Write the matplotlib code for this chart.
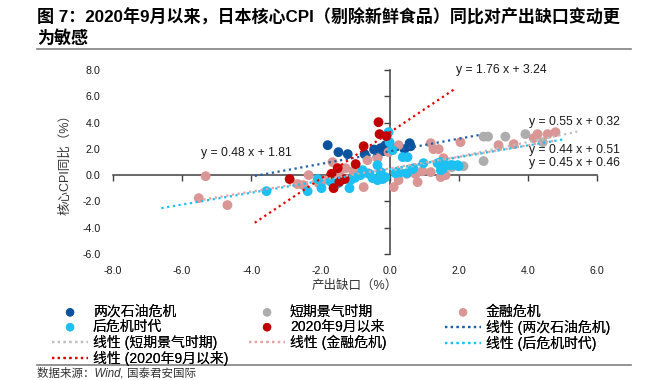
import matplotlib
matplotlib.use("Agg")
import matplotlib.pyplot as plt
from matplotlib.lines import Line2D
import numpy as np

plt.rcParams['font.family'] = ['Liberation Sans', 'Noto Sans CJK SC', 'DejaVu Sans']
plt.rcParams['axes.unicode_minus'] = False

# ---------------- data ----------------
oil_x = [-1.79, -1.48, -1.21, -0.72, -0.35, -0.26, -0.17, -0.06, 0.09, 0.43, 0.58, -0.45, -0.12, 0.61]
oil_y = [2.28, 1.75, 1.60, 1.60, 1.37, 2.05, 1.83, 2.13, 2.05, 1.98, 2.43, 1.95, 2.28, 2.20]

boom_x = [2.14, 2.72, 2.72, 2.85, 3.35, 3.93, 4.43, 1.80]
boom_y = [0.68, 1.07, 2.93, 2.93, 2.93, 3.12, 2.51, 0.60]

fin_x = [-5.52, -5.32, -4.69, -2.34, -2.66, -2.49, -2.05, -1.65, -1.27, -1.05, -0.64, -0.35,
         -0.03, -0.61, -0.75, -0.20, 0.12, 0.26, 0.26, 0.50, 0.75, 0.81, 1.19, 1.19, 1.27,
         1.42, 1.48, 1.62, 1.56, 2.05, 3.15, 3.59, 4.17, 4.28, 4.57, 4.80, -1.45, -1.90, 0.95]
fin_y = [-1.75, -0.08, -2.28, 0.00, -0.68, -0.76, -0.61, 0.99, 0.53, 0.30, 1.14, 1.29,
         1.75, 0.15, -0.91, -0.20, -0.91, 2.28, -0.38, 0.10, 0.08, -0.53, 0.23, 2.43, 1.98,
         1.98, -0.15, 0.00, 1.29, 2.51, 2.28, 2.36, 2.82, 3.12, 3.12, 3.27, 0.15, -0.40, 0.30]

post_x = [-3.56, -2.37, -1.97, -2.08, -1.48, -1.16, -1.13, -0.84, -0.78, -0.49, -0.35, -0.35,
          -0.26, -0.12, -0.20, -0.03, 0.00, 0.09, 0.17, 0.38, 0.52, 0.67, 0.50, 0.98, 0.69,
          1.39, 1.48, 1.62, 1.76, 1.82, 1.97, 2.00, 1.48, 1.55, -0.60, 0.30, -1.00, -1.70]
post_y = [-1.22, -1.22, -0.99, -0.30, -0.61, -0.99, -0.38, 0.00, 0.38, -0.23, -0.38, 0.76,
          0.23, -0.15, -0.30, 3.27, 2.50, 1.90, 0.15, 1.37, 1.37, 0.46, 0.15, 0.91, 0.53,
          0.91, 0.99, 0.76, 0.76, 0.76, 0.76, 0.68, 0.38, 0.50, 0.10, 0.20, -0.20, -0.50]

since_x = [-2.89, -1.68, -1.62, -1.50, -1.30, -0.98, -0.75, -0.32, -0.29, -0.09, -1.45]
since_y = [-0.30, 0.10, -0.99, 0.53, -0.30, 0.84, 2.20, 4.03, 3.12, 2.97, -0.50]

series_names = ['两次石油危机', '短期景气时期', '金融危机', '后危机时代', '2020年9月以来']
series_colors = ['#0B539F', '#ADADAD', '#D99694', '#1CC0F2', '#C00000']
series_x = [oil_x, boom_x, fin_x, post_x, since_x]
series_y = [oil_y, boom_y, fin_y, post_y, since_y]

# trendlines (from the equations shown on the chart)
trend_slope = [0.48, 0.55, 0.44, 0.45, 1.76]
trend_inter = [1.81, 0.32, 0.51, 0.46, 3.24]
trend_xmin = [-3.9, 0.14, -5.55, -6.6, -3.9]
trend_xmax = [2.6, 5.43, 4.8, 5.03, 1.85]
trend_colors = ['#1F5FAA', '#BFBFBF', '#E8A0A0', '#1CC0F2', '#E00000']

eq_labels = ['y = 0.48 x + 1.81', 'y = 0.55 x + 0.32', 'y = 0.44 x + 0.51',
             'y = 0.45 x + 0.46', 'y = 1.76 x + 3.24']
eq_pos_x = [-4.14, 4.03, 4.03, 4.03, 1.91]
eq_pos_y = [1.67, 4.06, 1.90, 0.89, 7.99]
eq_ha = ['center', 'left', 'left', 'left', 'left']

x_ticks = [-8, -6, -4, -2, 0, 2, 4, 6]
y_ticks = [-6, -4, -2, 0, 2, 4, 6, 8]

title_line1 = '图 7：2020年9月以来，日本核心CPI（剔除新鲜食品）同比对产出缺口变动更'
title_line2 = '为敏感'
source_text = '数据来源：Wind, 国泰君安国际'

# ---------------- figure ----------------
W, H = 649, 380
fig = plt.figure(figsize=(W / 100, H / 100), dpi=100)
fx = lambda p: p / W
fy = lambda p: 1 - p / H

ax = fig.add_axes([fx(113), fy(254), (597 - 113) / W, (254 - 70) / H])
ax.set_xlim(-8, 6)
ax.set_ylim(-6, 8)

scatter_handles = []
for xs, ys, c, n in zip(series_x, series_y, series_colors, series_names):
    h = ax.scatter(xs, ys, s=50, color=c, edgecolors='none', label=n, zorder=3)
    scatter_handles.append(h)

line_handles = []
for m, b, x0, x1, c, n in zip(trend_slope, trend_inter, trend_xmin, trend_xmax,
                              trend_colors, series_names):
    xx = np.array([x0, x1])
    ln, = ax.plot(xx, m * xx + b, linestyle=(0, (1, 1.6)), color=c, lw=1.6,
                  label='线性 (' + n + ')', zorder=4)
    line_handles.append(ln)

for s, x, y, ha in zip(eq_labels, eq_pos_x, eq_pos_y, eq_ha):
    ax.text(x, y, s, fontsize=8.8, ha=ha, va='center', color='#1a1a1a', zorder=6)

for side in ['top', 'right']:
    ax.spines[side].set_visible(False)
ax.spines['left'].set_position(('data', 0))
ax.spines['bottom'].set_position(('data', 0))
for side in ['left', 'bottom']:
    ax.spines[side].set_color('#404040')
    ax.spines[side].set_linewidth(1.1)
ax.set_xticks(x_ticks)
ax.set_yticks(y_ticks)
ax.tick_params(direction='out', length=4, width=1, color='#404040',
               labelleft=False, labelbottom=False)

sx = ax.secondary_xaxis(0)
sx.set_xticks(x_ticks)
sx.set_xticklabels([f'{v:.1f}' for v in x_ticks])
sx.tick_params(length=0, pad=9, labelsize=7.7, labelcolor='#1a1a1a')
sx.spines['bottom'].set_visible(False)
sx.set_xlabel('产出缺口（%）', fontsize=9, color='#333333', labelpad=2)

sy = ax.secondary_yaxis(0)
sy.set_yticks(y_ticks)
sy.set_yticklabels([f'{v:.1f}' for v in y_ticks])
sy.tick_params(length=0, pad=9, labelsize=7.7, labelcolor='#1a1a1a')
sy.spines['left'].set_visible(False)
sy.set_ylabel('核心CPI同比（%）', fontsize=9, color='#333333', labelpad=8)

# legend: three columns in row-major order
all_handles = scatter_handles + line_handles
col_items = [[0, 3, 6, 9], [1, 4, 7], [2, 5, 8]]
col_x = [52, 249, 445]
for items, cx in zip(col_items, col_x):
    hs = [all_handles[i] for i in items]
    lg = fig.legend(hs, [h.get_label() for h in hs], loc='upper left',
                    bbox_to_anchor=(fx(cx), fy(305)), bbox_transform=fig.transFigure,
                    frameon=False, fontsize=10, handlelength=2.6, handletextpad=0.35,
                    labelspacing=0.06, borderpad=0, borderaxespad=0, markerscale=0.85)
    fig.add_artist(lg)

# title, rules and source
fig.text(fx(37), fy(17), title_line1, fontsize=12.25, fontweight='bold', va='center', ha='left')
fig.text(fx(37), fy(38), title_line2, fontsize=12.25, fontweight='bold', va='center', ha='left')
fig.add_artist(Line2D([fx(37), fx(631)], [fy(49), fy(49)], color='#808080', lw=1.2))
fig.add_artist(Line2D([fx(37), fx(631)], [fy(365), fy(365)], color='#808080', lw=1.2))
fig.text(fx(37), fy(373), source_text, fontsize=8.3, style='italic', va='center', ha='left',
         color='#333333')

fig.savefig('out.png', dpi=100)
